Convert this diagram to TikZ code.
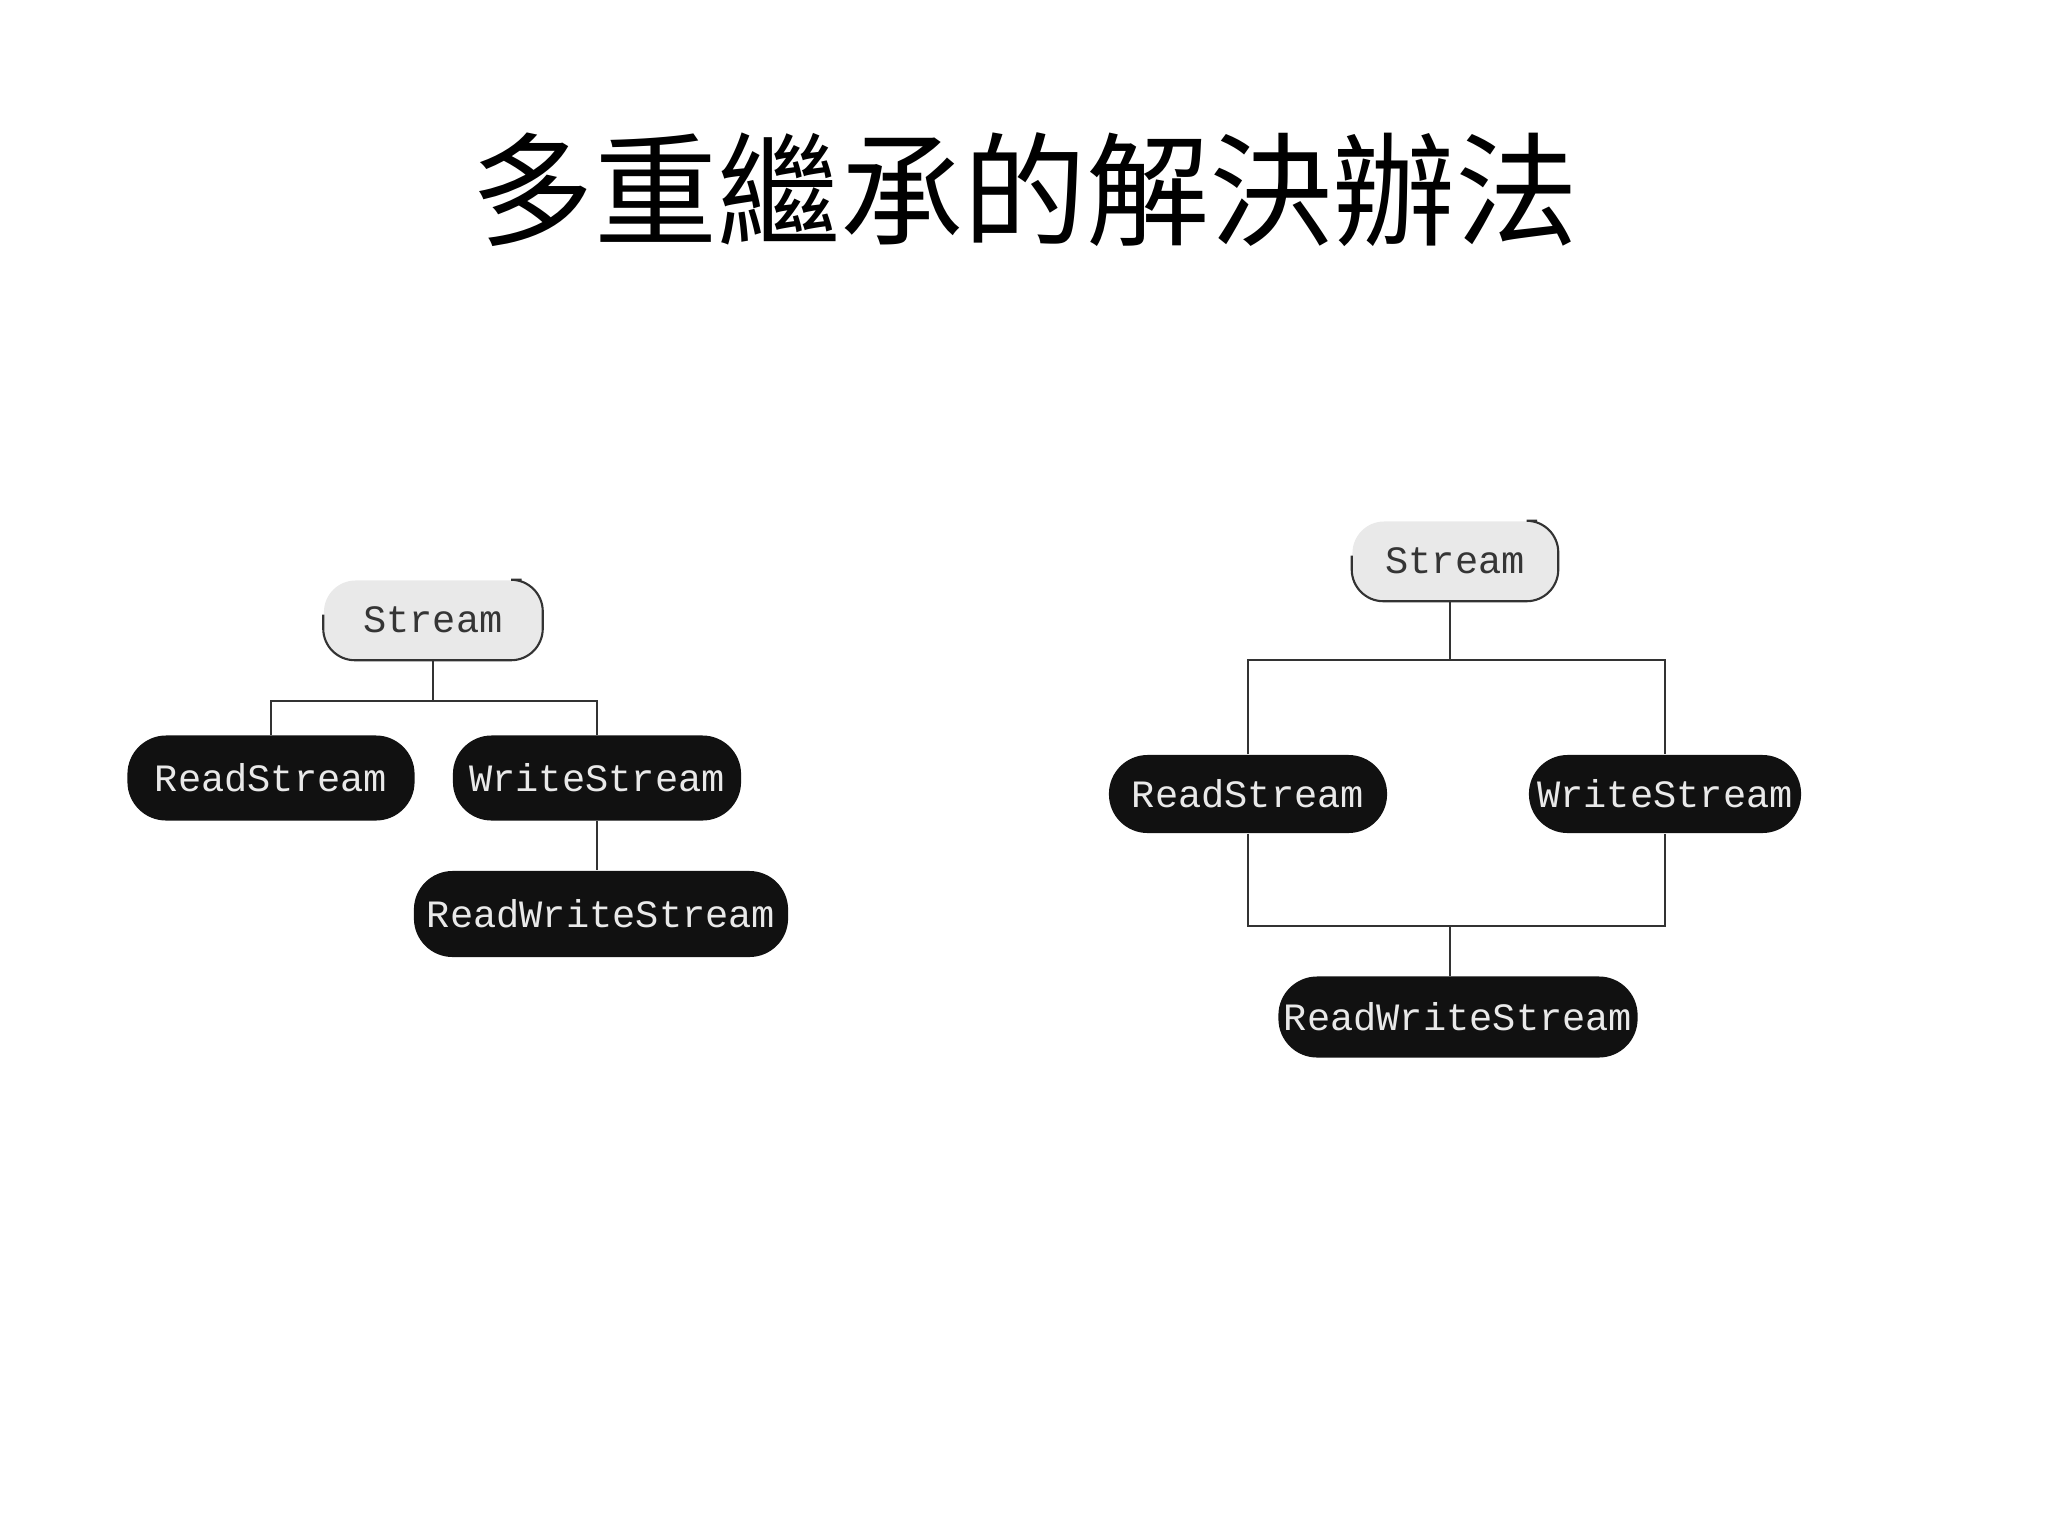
\documentclass[tikz,border=0pt]{standalone}
\usepackage{fontspec}
\setmonofont{Liberation Mono}
\newfontfamily\cjk{Noto Sans CJK TC}
\usetikzlibrary{positioning,calc}
\definecolor{ink}{HTML}{111111}
\definecolor{paper}{HTML}{E9E9E9}
\definecolor{wire}{HTML}{333333}
\tikzset{
  cls/.style={rectangle, rounded corners=11pt, fill=ink, text=paper, inner sep=0pt,
              font=\ttfamily\fontsize{11}{13}\selectfont},
  root/.style={rectangle, rounded corners=9pt, fill=paper, text=ink!85, inner sep=0pt,
               font=\ttfamily\fontsize{11}{13}\selectfont},
  rim/.style={draw=wire, line width=0.6pt, rounded corners=9pt},
  link/.style={draw=wire, line width=0.5pt}
}
\begin{document}
\begin{tikzpicture}[x=0.01cm, y=-0.01cm]
  \useasboundingbox (0,0) rectangle (2048,1536);
  \node[font=\cjk\fontsize{35}{40}\selectfont] (title) at (1025,190) {多重繼承的解決辦法};
  % left: plain inheritance
  \node[root, minimum width=2.18cm, minimum height=0.79cm] (s1) at (433,620) {Stream};
  \node[cls, minimum width=2.87cm, minimum height=0.85cm] (r1) at (271,778) {ReadStream};
  \node[cls, minimum width=2.88cm, minimum height=0.85cm] (w1) at (597,778) {WriteStream};
  \node[cls, minimum width=3.74cm, minimum height=0.86cm] (rw1) at (601,914) {ReadWriteStream};
  \draw[rim] ($(s1.south west)+(0,13pt)$) -- (s1.south west) -- (s1.south east)
    -- (s1.north east) -- ($(s1.north east)+(-6pt,0)$);
  \coordinate (j1) at (433,701);
  \draw[link] (s1.south) -- (j1);
  \draw[link] (r1.north) |- (j1) -| (w1.north);
  \draw[link] (w1.south) -- (w1.south |- rw1.north);
  % right: diamond
  \node[root, minimum width=2.05cm, minimum height=0.79cm] (s2) at (1455,561) {Stream};
  \node[cls, minimum width=2.78cm, minimum height=0.78cm] (r2) at (1248,794) {ReadStream};
  \node[cls, minimum width=2.72cm, minimum height=0.78cm] (w2) at (1665,794) {WriteStream};
  \node[cls, minimum width=3.59cm, minimum height=0.81cm] (rw2) at (1458,1017) {ReadWriteStream};
  \draw[rim] ($(s2.south west)+(0,13pt)$) -- (s2.south west) -- (s2.south east)
    -- (s2.north east) -- ($(s2.north east)+(-6pt,0)$);
  \coordinate (j2) at (1450,660);
  \coordinate (j3) at (1450,926);
  \draw[link] (j2 |- s2.south) -- (j2);
  \draw[link] (r2.north) |- (j2) -| (w2.north);
  \draw[link] (r2.south) |- (j3) -| (w2.south);
  \draw[link] (j3) -- (j3 |- rw2.north);
\end{tikzpicture}
\end{document}
